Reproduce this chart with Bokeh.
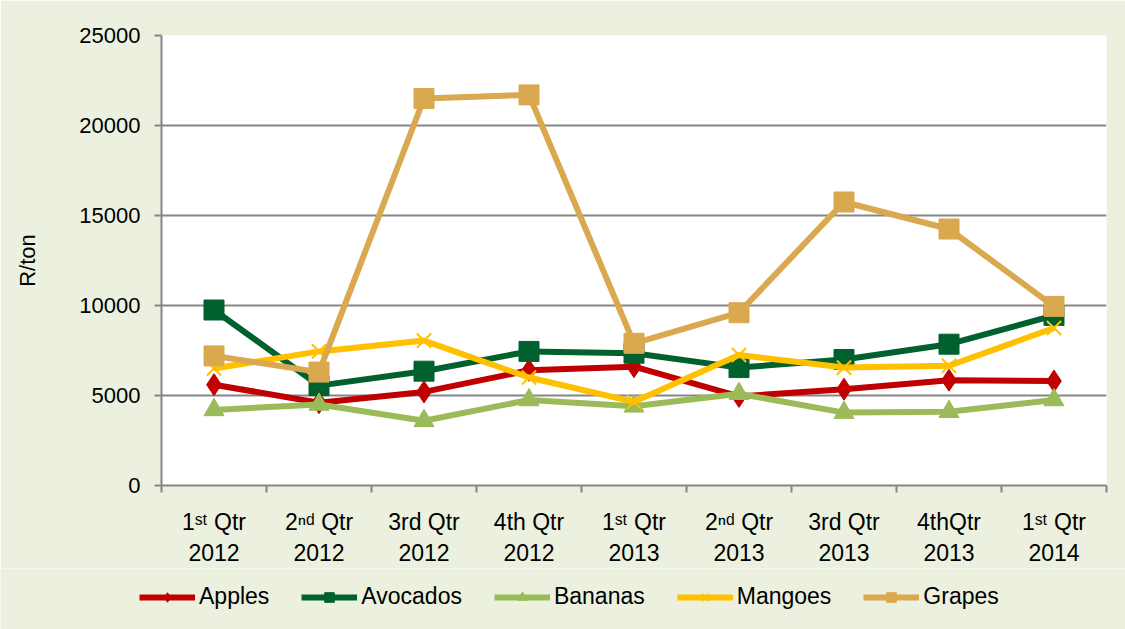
from bokeh.plotting import figure
from bokeh.layouts import column
from bokeh.models import Range1d, FixedTicker, Legend, LegendItem, NumeralTickFormatter
from bokeh.embed import file_html
from bokeh.resources import INLINE

# ---- data -------------------------------------------------------------
categories = ["1\u02e2\u1d57 Qtr\n2012", "2\u207f\u1d48 Qtr\n2012", "3rd Qtr\n2012", "4th Qtr\n2012",
              "1\u02e2\u1d57 Qtr\n2013", "2\u207f\u1d48 Qtr\n2013", "3rd Qtr\n2013", "4thQtr\n2013",
              "1\u02e2\u1d57 Qtr\n2014"]
apples   = [5600, 4600, 5200, 6400, 6600, 4950, 5350, 5850, 5800]
avocados = [9750, 5550, 6350, 7450, 7350, 6550, 7000, 7850, 9450]
bananas  = [4200, 4500, 3600, 4750, 4400, 5100, 4050, 4100, 4750]
mangoes  = [6500, 7450, 8050, 6000, 4650, 7250, 6550, 6650, 8750]
grapes   = [7200, 6300, 21500, 21700, 7900, 9600, 15750, 14250, 9950]
series_names = ["Apples", "Avocados", "Bananas", "Mangoes", "Grapes"]
y_ticks = [0, 5000, 10000, 15000, 20000, 25000]

# ---- styling ------------------------------------------------------------
colors = {"Apples": "#C00000", "Avocados": "#00612E", "Bananas": "#9BBB59",
          "Mangoes": "#FFC000", "Grapes": "#D9A84F"}
markers = {"Apples": "diamond", "Avocados": "square", "Bananas": "triangle",
           "Mangoes": "x", "Grapes": "square"}
sizes = {"Apples": 22, "Avocados": 20, "Bananas": 20, "Mangoes": 20, "Grapes": 20}
FONT = "Liberation Sans"
GREY = "#868686"
BG = "#EBF1DE"

n = len(categories)
xs = [i + 0.5 for i in range(n)]
data = {"Apples": apples, "Avocados": avocados, "Bananas": bananas,
        "Mangoes": mangoes, "Grapes": grapes}

# ---- main chart ---------------------------------------------------------
p = figure(width=1125, height=568, output_backend="svg", toolbar_location=None,
           x_range=Range1d(0, n), y_range=Range1d(y_ticks[0], y_ticks[-1]),
           min_border_left=161, min_border_right=19, min_border_top=35, min_border_bottom=83)
p.border_fill_color = BG
p.background_fill_color = "white"
p.outline_line_color = None

p.xaxis.ticker = FixedTicker(ticks=xs, minor_ticks=list(range(n + 1)))
p.xaxis.major_label_overrides = {x: c for x, c in zip(xs, categories)}
p.xaxis.major_tick_out = 0
p.xaxis.major_tick_in = 0
p.xaxis.minor_tick_out = 7
p.xaxis.minor_tick_in = 0
p.xaxis.minor_tick_line_color = GREY
p.xaxis.minor_tick_line_width = 2
p.xaxis.major_label_standoff = 16
p.xaxis.major_label_text_font_size = "23px"

p.yaxis.ticker = FixedTicker(ticks=y_ticks, minor_ticks=[])
p.yaxis.formatter = NumeralTickFormatter(format="0")
p.yaxis.major_tick_out = 7
p.yaxis.major_tick_in = 0
p.yaxis.major_tick_line_color = GREY
p.yaxis.major_tick_line_width = 2
p.yaxis.minor_tick_line_color = None
p.yaxis.major_label_standoff = 14
p.yaxis.major_label_text_font_size = "22px"
p.yaxis.axis_label = "R/ton"
p.yaxis.axis_label_text_font_size = "22px"
p.yaxis.axis_label_text_font_style = "normal"
p.yaxis.axis_label_text_font = FONT
p.yaxis.axis_label_text_color = "black"
p.yaxis.axis_label_standoff = 36

for ax in (p.xaxis, p.yaxis):
    ax.axis_line_color = GREY
    ax.axis_line_width = 2
    ax.major_label_text_font = FONT
    ax.major_label_text_color = "black"

p.xgrid.grid_line_color = None
p.ygrid.grid_line_color = GREY
p.ygrid.grid_line_width = 2


def draw_series(fig, name):
    c = colors[name]
    ln = fig.line(xs, data[name], line_color=c, line_width=6, line_join="round")
    if markers[name] == "x":
        sc = fig.scatter(xs, data[name], marker="x", size=sizes[name], line_color=c, line_width=2)
    else:
        sc = fig.scatter(xs, data[name], marker=markers[name], size=sizes[name],
                         fill_color=c, line_color=c)
    return ln, sc


for name in series_names:
    draw_series(p, name)

# ---- legend strip (same series styles; data lie outside its view) -------
lg = figure(width=1125, height=61, output_backend="svg", toolbar_location=None,
            x_range=Range1d(0, n), y_range=Range1d(-2, -1),
            x_axis_location=None, y_axis_location=None,
            min_border_left=0, min_border_right=0, min_border_top=0, min_border_bottom=0)
lg.border_fill_color = BG
lg.background_fill_color = BG
lg.outline_line_color = None
lg.xgrid.grid_line_color = None
lg.ygrid.grid_line_color = None
try:
    lg.frame_align = False
    p.frame_align = False
except Exception:
    pass

items = []
for name in series_names:
    ln, sc = draw_series(lg, name)
    items.append(LegendItem(label=name, renderers=[ln, sc]))

legend = Legend(items=items, orientation="horizontal", location=(139, 19))
legend.label_text_font = FONT
legend.label_text_font_size = "23px"
legend.label_text_color = "black"
legend.glyph_width = 56
legend.glyph_height = 24
legend.label_standoff = 4
legend.spacing = 32
legend.padding = 0
legend.margin = 0
legend.border_line_color = None
legend.background_fill_alpha = 0
lg.add_layout(legend)

layout = column(p, lg, spacing=0)
open("out.html", "w").write(file_html(layout, INLINE))
